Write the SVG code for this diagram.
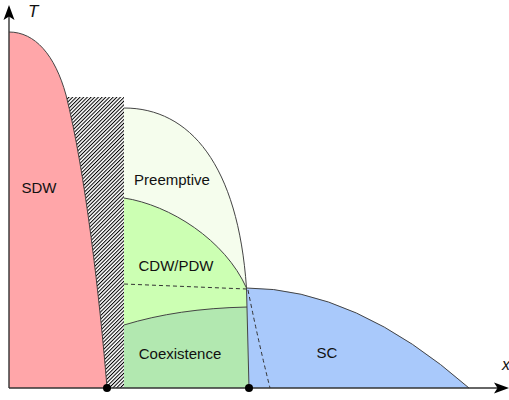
<svg xmlns="http://www.w3.org/2000/svg" width="509" height="400" viewBox="0 0 509 400">
<defs>
<pattern id="hatch" width="2.6" height="2.6" patternUnits="userSpaceOnUse" patternTransform="rotate(45)">
<rect width="2.6" height="2.6" fill="#fff"/>
<line x1="0.5" y1="0" x2="0.5" y2="2.6" stroke="#000" stroke-width="1"/>
</pattern>
</defs>
<style>
.edge{stroke:#444;stroke-width:1;fill:none}
.lbl{font-family:"Liberation Sans",Arial,sans-serif;font-size:15px;fill:#111;text-anchor:middle}
.dash{stroke:#333;stroke-width:1;fill:none;stroke-dasharray:4 3}
.ax{stroke:#333;stroke-width:1.4;fill:none}
.axl{font-family:"Liberation Sans",Arial,sans-serif;font-style:italic;fill:#111}
</style>
<g id="hatched">
<rect x="64" y="97" width="60" height="291" fill="url(#hatch)"/>
</g>
<g id="sdw">
<path d="M9,388 V32 C35,32 55,55 66,95 C85,170 100,300 107,388 Z" fill="#ffa6a9"/>
<path class="edge" d="M9,32 C35,32 55,55 66,95 C85,170 100,300 107,388" stroke="#222"/>
<text class="lbl" x="39" y="193">SDW</text>
</g>
<g id="preemptive">
<path d="M124,388 V108 C190,108 238,165 246.5,288 L249,388 Z" fill="#f5fded"/>
<path class="edge" d="M124,108 C190,108 238,165 246.5,288" stroke="#666"/>
<text class="lbl" x="172" y="185">Preemptive</text>
</g>
<g id="cdw">
<path d="M124,388 V198 C170,205 225,240 246.5,288 L249,388 Z" fill="#ccffb3"/>
<path class="edge" d="M124,198 C170,205 225,240 246.5,288" stroke="#555"/>
<text class="lbl" x="176" y="271">CDW/PDW</text>
</g>
<g id="coexistence">
<path d="M124,325 C160,314 200,308 247.4,307 L249,388 H124 Z" fill="#b2e8b0"/>
<path class="edge" d="M124,325 C160,314 200,308 247.4,307" stroke="#333"/>
<text class="lbl" x="180" y="359">Coexistence</text>
</g>
<g id="sc">
<path d="M246.5,288 Q355,288 469,388 H249 Z" fill="#a9c9fb"/>
<path class="edge" d="M246.5,288 Q355,288 469,388" stroke="#333"/>
<path class="edge" d="M246.5,288 L249,388" stroke="#555"/>
<text class="lbl" x="327" y="358">SC</text>
</g>
<g id="connectors">
<path class="dash" d="M124,284 L246.5,289"/>
<path class="dash" d="M248,290 Q258,340 270,388"/>
</g>
<g id="axes">
<line class="ax" x1="9" y1="388" x2="9" y2="14"/>
<line class="ax" x1="9" y1="388" x2="500" y2="388"/>
<path d="M9,5 L14.5,20 L9,16.5 L3.5,20 Z" fill="#000"/>
<path d="M509,388 L494,382.5 L497.5,388 L494,393.5 Z" fill="#000"/>
<text class="axl" x="28" y="17" font-size="17">T</text>
<text class="axl" x="502" y="370" font-size="16">x</text>
</g>
<g id="dots">
<circle cx="107" cy="388" r="4" fill="#000"/>
<circle cx="249" cy="388" r="4" fill="#000"/>
</g>
</svg>
